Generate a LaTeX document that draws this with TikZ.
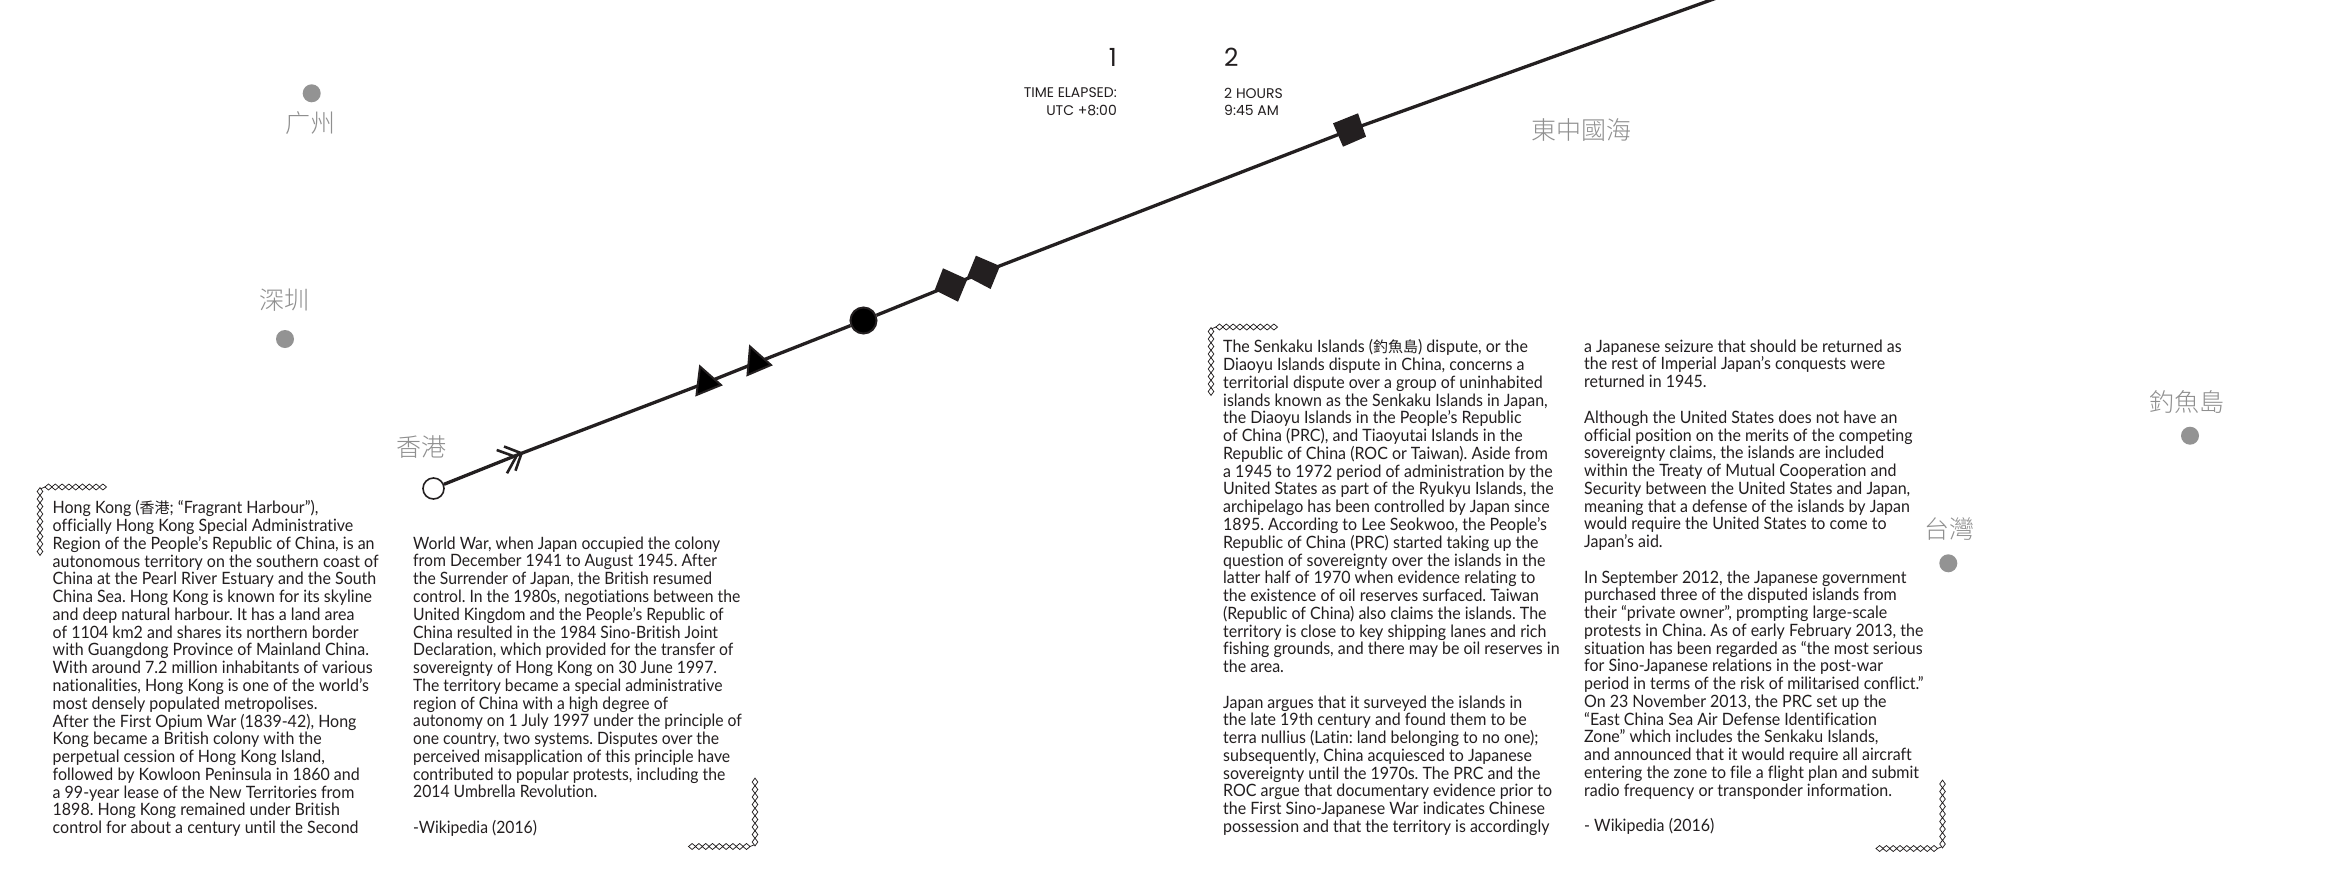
\documentclass[tikz,border=0pt]{standalone}
\usepackage{fontspec}
\setmainfont[FakeStretch=0.94,Ligatures=NoCommon]{Lato}
\newfontfamily\narrowbody[FakeStretch=0.925,Ligatures=NoCommon]{Lato}
\newfontfamily\cjk{Noto Sans CJK TC}
\newfontfamily\cjklight{Noto Sans CJK TC Light}
\newfontfamily\headfont{Poppins}
\definecolor{ink}{HTML}{231F20}
\definecolor{mapgrey}{HTML}{939393}
\definecolor{labelgrey}{HTML}{8F8F8F}
\newcommand{\inl}[1]{{\cjk\fontsize{15}{17.76}\selectfont #1}}
\tikzset{
  body/.style={anchor=north west,inner sep=0pt,align=left,text=ink,font=\fontsize{17}{17.76}\selectfont\frenchspacing},
  bodynarrow/.style={body,font=\narrowbody\fontsize{17}{17.76}\selectfont\frenchspacing},
  place/.style={text=labelgrey,inner sep=0pt,font=\cjklight\fontsize{25}{28}\selectfont},
  city/.style={circle,fill=mapgrey,draw=none,minimum size=18pt,inner sep=0pt},
  num/.style={inner sep=0pt,text=ink,font=\headfont\fontsize{25}{28}\selectfont},
  small/.style={inner sep=0pt,text=ink,font=\headfont\fontsize{14}{17.8}\selectfont},
  route/.style={draw=ink,line width=3.3pt},
  marker/.style={draw=ink,fill=black,line width=2pt,line join=miter},
  square/.style={fill=ink,draw=none},
  chevron/.style={draw=ink,line width=2.6pt},
  bead/.style={draw=ink,line width=0.75pt,fill=white}
}
\newcommand{\beadh}[2]{\draw[bead] (#1+3.6,#2) -- (#1,#2-3) -- (#1-3.6,#2) -- (#1,#2+3) -- cycle;}
\newcommand{\beadv}[2]{\draw[bead] (#1+2.8,#2) -- (#1,#2-3.9) -- (#1-2.8,#2) -- (#1,#2+3.9) -- cycle;}
\begin{document}
\begin{tikzpicture}[x=1pt,y=-1pt]
\useasboundingbox[fill=white] (0,0) rectangle (2340,895);

% route
\coordinate (p1) at (521,453.5);
\coordinate (p2) at (708,382);
\coordinate (p3) at (758,362);
\coordinate (p5) at (951,285);
\coordinate (p6) at (984,272);
\coordinate (p7) at (1350,130);
\coordinate (pend) at (1716.5,-2);
\node[circle,draw=ink,fill=white,line width=1.6pt,minimum size=21pt,inner sep=0pt] (hk) at (433.5,488.5) {};
\node[circle,marker,minimum size=26pt,inner sep=0pt] (p4) at (863.5,320.5) {};
\draw[route] (hk) -- (p1) -- (p2) -- (p3) -- (p4) -- (p5) -- (p6) -- (p7) -- (pend);

% chevrons
\coordinate (c1) at (521.5,453.3);
\coordinate (c1a) at (504,446.5);
\coordinate (c1b) at (515.5,470.7);
\coordinate (c2) at (516,457);
\coordinate (c2a) at (496.7,450);
\coordinate (c2b) at (507,473.3);
\draw[chevron] (c1a) -- (c1) -- (c1b);
\draw[chevron] (c2a) -- (c2) -- (c2b);

% triangles and squares
\draw[marker] (700,366.5) -- (721,385) -- (696.5,395) -- cycle;
\draw[marker] (750,346.5) -- (771,365) -- (747.5,375) -- cycle;
\fill[square] (943,268.3) -- (967.3,279.3) -- (958,301.7) -- (934.7,290) -- cycle;
\fill[square] (975.9,255.7) -- (1000,266) -- (990.6,289) -- (967.3,276.7) -- cycle;
\fill[square] (1333,123.3) -- (1358,113.3) -- (1366,136.7) -- (1343,146.7) -- cycle;

% places
\node[city] (gz) at (311.7,93.3) {};
\node[place] (gzl) at (310,123) {广州};
\node[city] (sz) at (285,339) {};
\node[place] (szl) at (284,300) {深圳};
\node[place] (hkl) at (421,447.5) {香港};
\node[place] (ecs) at (1581,130) {東中國海};
\node[city] (tw) at (1948.3,563.3) {};
\node[place] (twl) at (1949,529.3) {台灣};
\node[city] (dy) at (2190,435.7) {};
\node[place] (dyl) at (2186.7,401.7) {釣魚島};

% header
\node[num,anchor=east] (n1) at (1117,57) {1};
\node[num,anchor=west] (n2) at (1224,57) {2};
\node[small,anchor=north east,align=right] (t1) at (1117,87.5) {TIME ELAPSED:\\UTC +8:00};
\node[small,anchor=north west,align=left] (t2) at (1224,87.5) {2 HOURS\\9:45 AM};

% text columns
\node[body] (col1) at (52.5,500.5) {Hong Kong (\inl{香港}; “Fragrant Harbour”),\\
officially Hong Kong Special Administrative\\
Region of the People’s Republic of China, is an\\
autonomous territory on the southern coast of\\
China at the Pearl River Estuary and the South\\
China Sea. Hong Kong is known for its skyline\\
and deep natural harbour. It has a land area\\
of 1104 km2 and shares its northern border\\
with Guangdong Province of Mainland China.\\
With around 7.2 million inhabitants of various\\
nationalities, Hong Kong is one of the world’s\\
most densely populated metropolises.\\
After the First Opium War (1839-42), Hong\\
Kong became a British colony with the\\
perpetual cession of Hong Kong Island,\\
followed by Kowloon Peninsula in 1860 and\\
a 99-year lease of the New Territories from\\
1898. Hong Kong remained under British\\
control for about a century until the Second};

\node[bodynarrow] (col2) at (413,536.5) {World War, when Japan occupied the colony\\
from December 1941 to August 1945. After\\
the Surrender of Japan, the British resumed\\
control. In the 1980s, negotiations between the\\
United Kingdom and the People’s Republic of\\
China resulted in the 1984 Sino-British Joint\\
Declaration, which provided for the transfer of\\
sovereignty of Hong Kong on 30 June 1997.\\
The territory became a special administrative\\
region of China with a high degree of\\
autonomy on 1 July 1997 under the principle of\\
one country, two systems. Disputes over the\\
perceived misapplication of this principle have\\
contributed to popular protests, including the\\
2014 Umbrella Revolution.\\[17.76pt]
-Wikipedia (2016)};

\node[body] (col3) at (1223,339.5) {The Senkaku Islands (\inl{釣魚島}) dispute, or the\\
Diaoyu Islands dispute in China, concerns a\\
territorial dispute over a group of uninhabited\\
islands known as the Senkaku Islands in Japan,\\
the Diaoyu Islands in the People’s Republic\\
of China (PRC), and Tiaoyutai Islands in the\\
Republic of China (ROC or Taiwan). Aside from\\
a 1945 to 1972 period of administration by the\\
United States as part of the Ryukyu Islands, the\\
archipelago has been controlled by Japan since\\
1895. According to Lee Seokwoo, the People’s\\
Republic of China (PRC) started taking up the\\
question of sovereignty over the islands in the\\
latter half of 1970 when evidence relating to\\
the existence of oil reserves surfaced. Taiwan\\
(Republic of China) also claims the islands. The\\
territory is close to key shipping lanes and rich\\
fishing grounds, and there may be oil reserves in\\
the area.\\[17.76pt]
Japan argues that it surveyed the islands in\\
the late 19th century and found them to be\\
terra nullius (Latin: land belonging to no one);\\
subsequently, China acquiesced to Japanese\\
sovereignty until the 1970s. The PRC and the\\
ROC argue that documentary evidence prior to\\
the First Sino-Japanese War indicates Chinese\\
possession and that the territory is accordingly};

\node[body] (col4) at (1584,339.5) {a Japanese seizure that should be returned as\\
the rest of Imperial Japan’s conquests were\\
returned in 1945.\\[17.76pt]
Although the United States does not have an\\
official position on the merits of the competing\\
sovereignty claims, the islands are included\\
within the Treaty of Mutual Cooperation and\\
Security between the United States and Japan,\\
meaning that a defense of the islands by Japan\\
would require the United States to come to\\
Japan’s aid.\\[17.76pt]
In September 2012, the Japanese government\\
purchased three of the disputed islands from\\
their “private owner”, prompting large-scale\\
protests in China. As of early February 2013, the\\
situation has been regarded as “the most serious\\
for Sino-Japanese relations in the post-war\\
period in terms of the risk of militarised conflict.”\\
On 23 November 2013, the PRC set up the\\
“East China Sea Air Defense Identification\\
Zone” which includes the Senkaku Islands,\\
and announced that it would require all aircraft\\
entering the zone to file a flight plan and submit\\
radio frequency or transponder information.\\[17.76pt]
- Wikipedia (2016)};

% bead brackets
\foreach \cx/\cy in {40/487,1211/327}{
  \draw[bead] (\cx,\cy+2) -- (\cx+5,\cy);
  \foreach \i in {0,...,8}{
    \beadh{\cx+8.5+\i*6.8}{\cy}
    \beadv{\cx}{\cy+4.5+\i*7.5}
  }
}
\foreach \cx/\cy in {755/846.5,1942.5/848.5}{
  \draw[bead] (\cx,\cy-2) -- (\cx-5,\cy);
  \foreach \i in {0,...,8}{
    \beadh{\cx-8.5-\i*6.8}{\cy}
    \beadv{\cx}{\cy-4.5-\i*7.5}
  }
}
\end{tikzpicture}
\end{document}
